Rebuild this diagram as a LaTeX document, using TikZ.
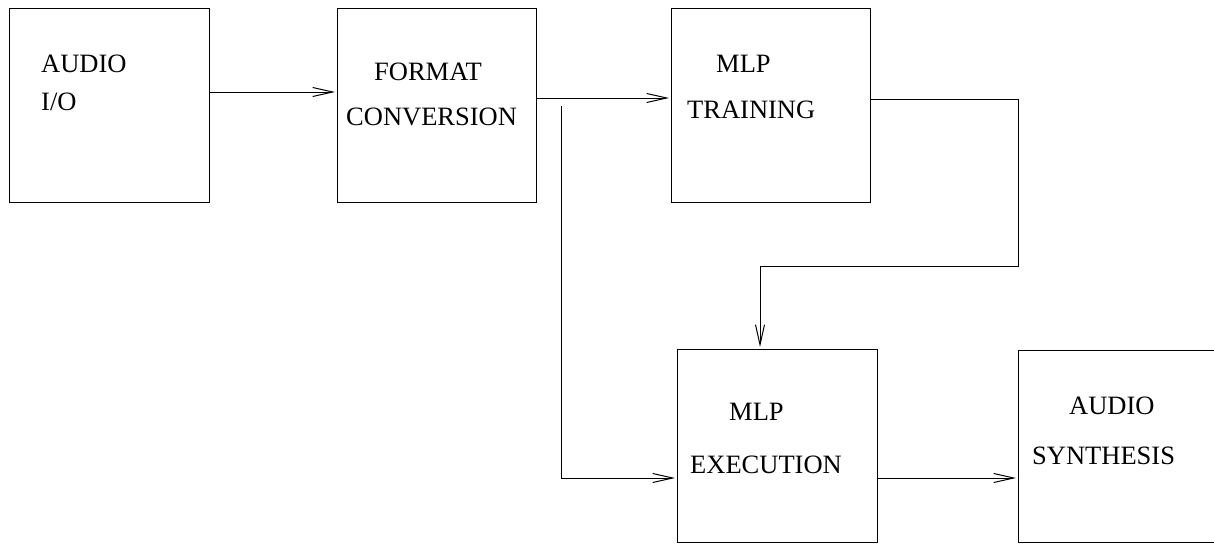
\documentclass[tikz,border=0pt]{standalone}
\usepackage{fontspec}
\setmainfont{Liberation Serif}
\usetikzlibrary{arrows.meta}
\begin{document}
\begin{tikzpicture}[
    x=1pt, y=-1pt,
    block/.style={draw, line width=1pt, minimum width=200pt,
      minimum height=193pt, inner sep=0pt, outer sep=0pt},
    txt/.style={anchor=base west, inner sep=0pt,
      font=\fontsize{26.5}{30}\selectfont},
    flow/.style={line width=1pt, shorten >=2pt,
      -{Straight Barb[length=20pt,width=9pt]}}
  ]
    \useasboundingbox (0,0) rectangle (1214,543);
    \node[block] (aio) at (109,105.5) {};
    \node[block, minimum width=199pt] (fmt) at (436.5,105.5) {};
    \node[block, minimum width=199pt] (trn) at (770.5,105.5) {};
    \node[block] (exe) at (777,445.5) {};
    \node[block, minimum height=192pt] (syn) at (1118,446) {};
    \node[txt] (aio-a) at (41,73) {AUDIO};
    \node[txt] (aio-b) at (41,110) {I/O};
    \node[txt] (fmt-a) at (374,80) {FORMAT};
    \node[txt] (fmt-b) at (346,125) {CONVERSION};
    \node[txt] (trn-a) at (716,73) {MLP};
    \node[txt] (trn-b) at (687,118) {TRAINING};
    \node[txt] (exe-a) at (729,420) {MLP};
    \node[txt] (exe-b) at (690,473) {EXECUTION};
    \node[txt] (syn-a) at (1069,414) {AUDIO};
    \node[txt] (syn-b) at (1032,464) {SYNTHESIS};
    \coordinate (tap) at (561,106);
    \coordinate (turn) at (1018,266);
    \draw[flow] ([yshift=13.5pt]aio.east) -- ([yshift=13.5pt]fmt.west);
    \draw[flow] ([yshift=7.5pt]fmt.east) -- ([yshift=7.5pt]trn.west);
    \draw[flow] (tap) |- ([yshift=-32.5pt]exe.west);
    \draw[flow] ([yshift=6.5pt]trn.east) -| (turn)
      -| ([xshift=-17pt]exe.north);
    \draw[flow] ([yshift=-32.5pt]exe.east)
      -- ([yshift=-32.5pt]exe.east -| syn.west);
  \end{tikzpicture}
\end{document}
